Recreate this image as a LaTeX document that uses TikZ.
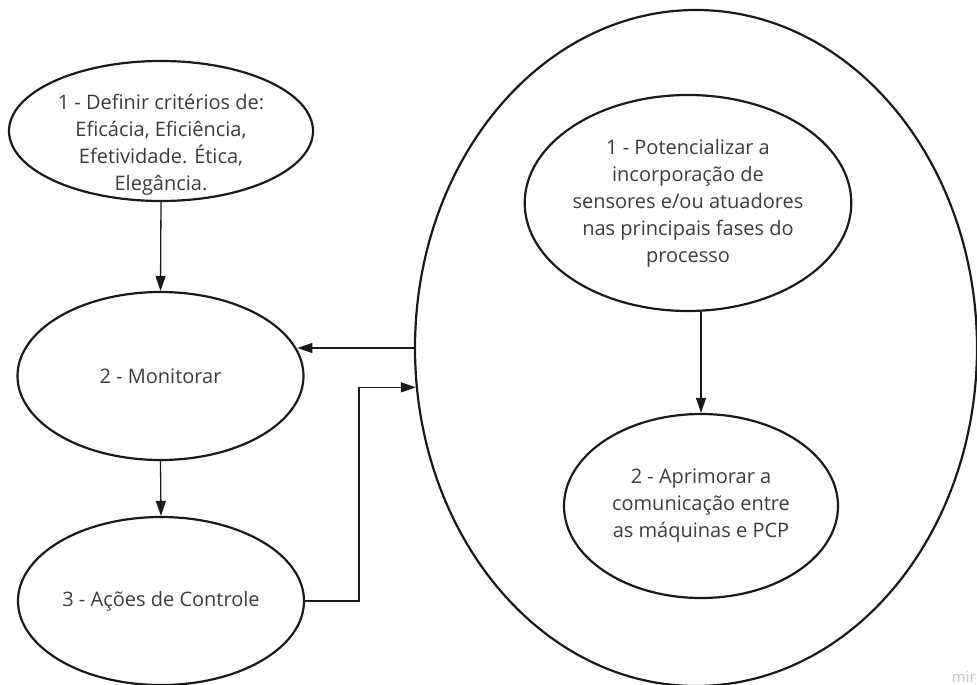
\documentclass[tikz,border=0pt]{standalone}
\usepackage{fontspec}
\setmainfont{Open Sans}
\usetikzlibrary{shapes.geometric,arrows.meta,calc}
\definecolor{ink}{HTML}{1A1A1A}
\definecolor{txtgray}{HTML}{3C3C3C}
\definecolor{markgray}{HTML}{C4C4C4}
\begin{document}
\begin{tikzpicture}[x=1pt,y=-1pt,
  oval/.style={ellipse, draw=ink, line width=2.2pt, inner sep=0pt},
  txt/.style={text=txtgray, align=center, font=\fontsize{20}{27}\selectfont},
  link/.style={draw=ink, line width=1.3pt, -{Triangle[length=15pt,width=10pt]}}]
\useasboundingbox (0,0) rectangle (977,685);

% left column: the control loop
\node[oval, minimum width=304pt, minimum height=140pt] (A) at (161,131) {};
\node[txt] (At) at (161,145) {1 - Definir critérios de:\\Eficácia, Eficiência,\\Efetividade. Ética,\\Elegância.};
\node[oval, minimum width=286pt, minimum height=168pt, txt] (B) at (160.5,376) {2 - Monitorar};
\node[oval, minimum width=286pt, minimum height=168pt, txt] (C) at (161,601) {3 - Ações de Controle};

% right: improvement actions inside a large ellipse
\node[oval, minimum width=562pt, minimum height=676pt] (D) at (696,348) {};
\node[oval, minimum width=306pt, minimum height=216pt, txt] (E) at (688,203) {1 - Potencializar a\\incorporação de\\sensores e/ou atuadores\\nas principais fases do\\processo};
\node[oval, minimum width=274pt, minimum height=184pt, txt] (F) at (701,506) {2 - Aprimorar a\\comunicação entre\\as máquinas e PCP};

% connectors
\coordinate (j) at (359,0);
\draw[link] (A.south) -- (B.north);
\draw[link] (B.south) -- (C.north);
\draw[link] (E.south -| F.north) -- (F.north);
\draw[link] (D.west) -- (D.west -| B.11);
\draw[link] (C.east) -- (C.east -| j) |- (D.188);

% faint tool mark in the corner
\node[font=\fontsize{15}{15}\selectfont, text=markgray, anchor=base east, inner sep=0pt] (wm) at (976,682) {mir};
\end{tikzpicture}
\end{document}
